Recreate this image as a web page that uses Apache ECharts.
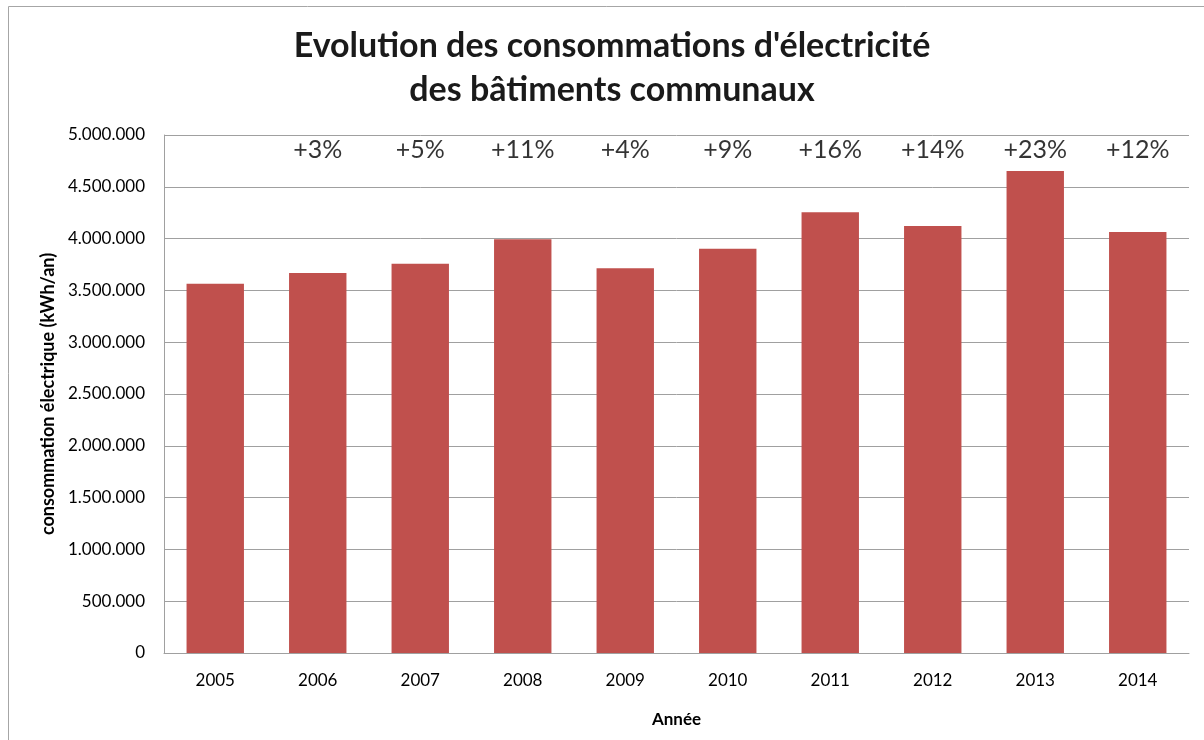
<!DOCTYPE html>
<html>
<head>
<meta charset="utf-8">
<script src="https://cdn.jsdelivr.net/npm/echarts@6/dist/echarts.min.js"></script>
<style>
html,body{margin:0;padding:0;background:#fff;}
#main{width:1204px;height:740px;}
</style>
</head>
<body>
<div id="main"></div>
<script>
const years = ['2005','2006','2007','2008','2009','2010','2011','2012','2013','2014'];
const consumption = [3565000, 3667000, 3758000, 3993000, 3713000, 3903000, 4254000, 4122000, 4652000, 4064000];
const changeLabels = ['', '+3%', '+5%', '+11%', '+4%', '+9%', '+16%', '+14%', '+23%', '+12%'];
const yTicks = [0, 500000, 1000000, 1500000, 2000000, 2500000, 3000000, 3500000, 4000000, 4500000, 5000000];

const LABEL_ROW = 4855000;
const FONT = 'Lato, "Open Sans", sans-serif';

function fmt(v){
  return String(v).replace(/\B(?=(\d{3})+(?!\d))/g, '.');
}

const chart = echarts.init(document.getElementById('main'), null, {renderer:'canvas'});
chart.setOption({
  animation: false,
  backgroundColor: '#fff',
  textStyle: {fontFamily: FONT},
  title: {
    text: "Evolution des consommations d'électricité\ndes bâtiments communaux",
    left: 607,
    top: 19,
    textAlign: 'center',
    textStyle: {fontFamily: FONT, fontWeight: 'bold', fontSize: 34, color: '#1a1a1a', lineHeight: 44}
  },
  graphic: [{
    type: 'rect',
    shape: {x: 8.5, y: 6.5, width: 1400, height: 900},
    style: {fill: 'none', stroke: '#a6a6a6', lineWidth: 1},
    silent: true
  }],
  grid: {left: 164, top: 135, right: 15, bottom: 87, containLabel: false},
  xAxis: {
    type: 'category',
    data: years,
    axisLine: {lineStyle: {color: '#a0a0a0', width: 1}},
    axisTick: {show: false},
    axisLabel: {color: '#000', fontSize: 17, margin: 19, fontFamily: FONT},
    name: 'Année',
    nameLocation: 'middle',
    nameGap: 58,
    nameTextStyle: {fontWeight: 'bold', fontSize: 17, color: '#000', fontFamily: FONT}
  },
  yAxis: {
    type: 'value',
    min: yTicks[0],
    max: yTicks[yTicks.length-1],
    interval: yTicks[1]-yTicks[0],
    axisLine: {show: true, lineStyle: {color: '#a0a0a0', width: 1}},
    axisTick: {show: false},
    splitLine: {lineStyle: {color: '#a0a0a0', width: 1}},
    axisLabel: {color: '#000', fontSize: 17, margin: 19, formatter: v => fmt(v), fontFamily: FONT},
    name: 'consommation électrique (kWh/an)',
    nameLocation: 'middle',
    nameGap: 107,
    nameRotate: 90,
    nameTextStyle: {fontWeight: 'bold', fontSize: 18, color: '#000', fontFamily: FONT}
  },
  series: [{
    type: 'bar',
    data: consumption,
    barWidth: '56%',
    itemStyle: {color: '#C0504D'},
    silent: true
  }, {
    type: 'scatter',
    data: years.map((y, i) => [y, LABEL_ROW]),
    symbolSize: 0,
    silent: true,
    label: {
      show: true,
      position: 'inside',
      formatter: p => changeLabels[p.dataIndex],
      fontSize: 25,
      color: '#000',
      fontFamily: FONT
    }
  }]
});
</script>
</body>
</html>
